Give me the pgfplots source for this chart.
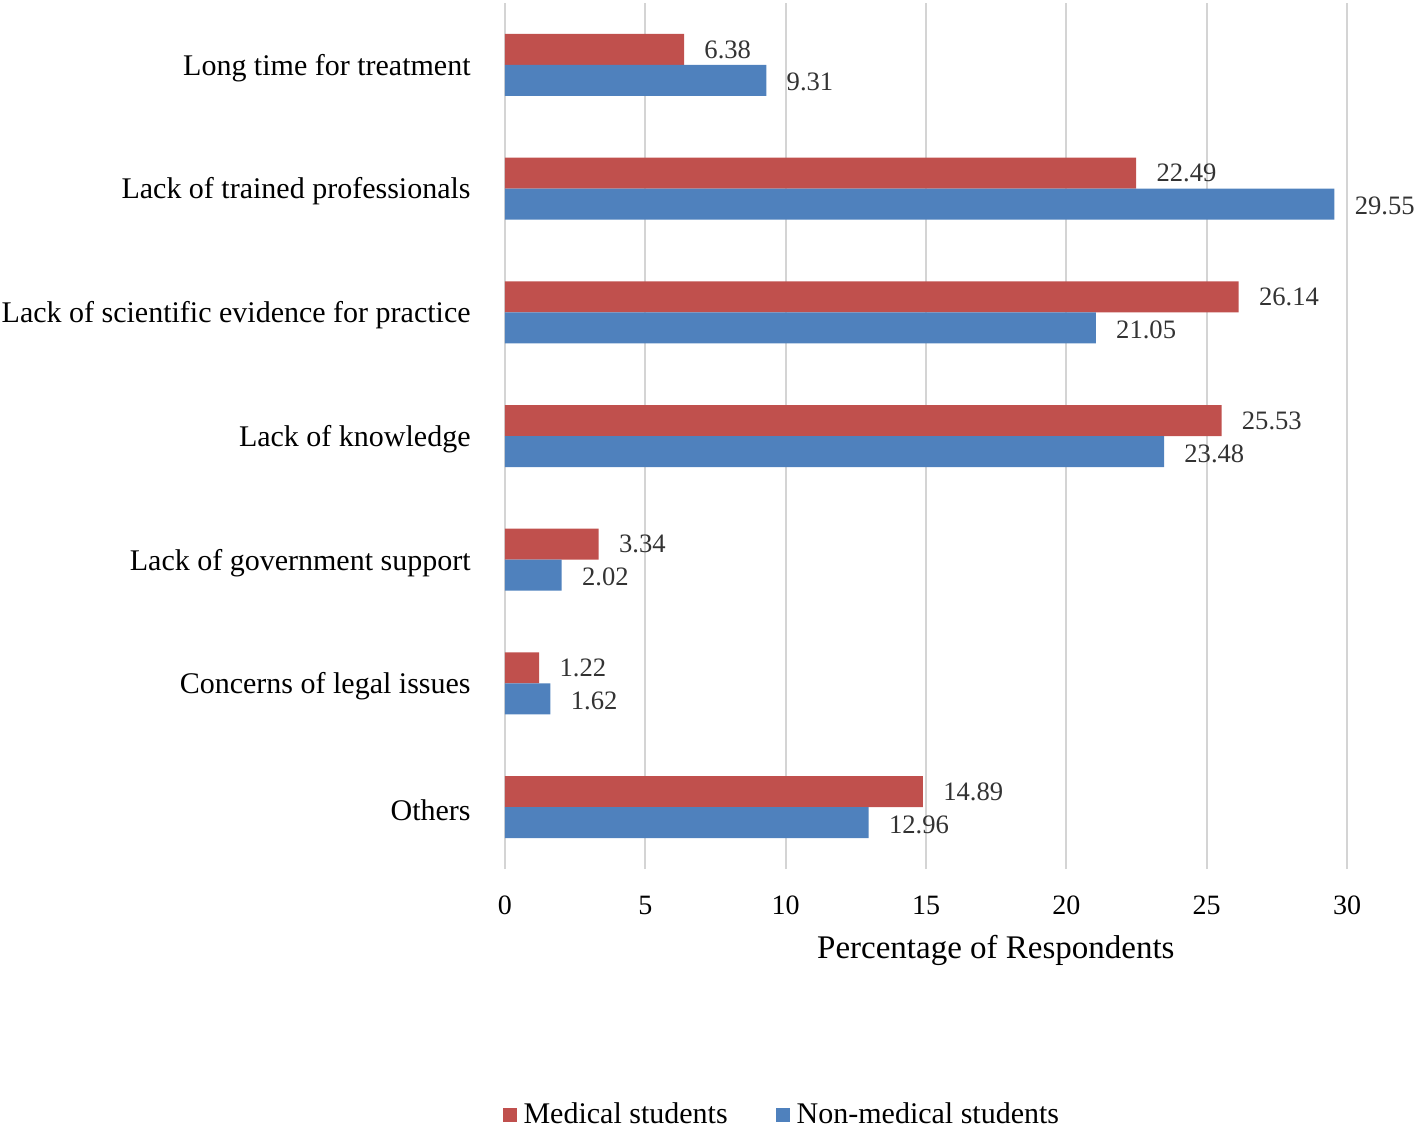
\documentclass[border=0pt]{standalone}
\usepackage{pgfplots}
\pgfplotsset{compat=1.18}
\usepackage{fontspec}
\setmainfont{Liberation Serif}
\definecolor{medred}{HTML}{C0504D}
\definecolor{nonblue}{HTML}{4F81BD}
\definecolor{gridgray}{HTML}{D4D4D4}
\begin{document}
\begin{tikzpicture}
\begin{axis}[
  scale only axis,
  width=421pt, height=433pt,
  xbar, bar width=15.5pt,
  xmin=0, xmax=30,
  ymin=-0.5, ymax=6.5,
  xtick={0,5,...,30},
  ytick={0,...,6},
  yticklabels={Others, Concerns of legal issues, Lack of government support, Lack of knowledge, Lack of scientific evidence for practice, Lack of trained professionals, Long time for treatment},
  major tick length=0pt,
  axis line style={draw=none},
  xmajorgrids, grid style={gridgray, line width=1pt},
  font=\fontsize{15}{18}\selectfont,
  /pgf/number format/assume math mode=true,
  xticklabel style={font=\fontsize{14}{16}\selectfont, anchor=center, yshift=-18pt, inner sep=0pt},
  yticklabel style={anchor=east, inner sep=0pt, xshift=-17pt, yshift=-1.5pt},
  xlabel={Percentage of Respondents},
  xlabel style={at={(axis description cs:0.583,0)}, anchor=center, yshift=-40.5pt, font=\fontsize{16.5}{19}\selectfont},
  nodes near coords,
  nodes near coords style={/pgf/number format/.cd, fixed, fixed zerofill, precision=2, assume math mode=true,
    /tikz/.cd, font=\fontsize{13.3}{15}\selectfont, anchor=west, inner sep=0pt, xshift=10pt, text=black!80},
  legend style={at={(axis description cs:0.33,0)}, anchor=center, yshift=-123pt, draw=none, legend columns=2,
    /tikz/every even column/.append style={column sep=22pt}, font=\fontsize{15}{18}\selectfont},
  legend image code/.code={\fill[#1] (0pt,-3.5pt) rectangle (7pt,3.5pt); \path (0pt,0pt) (8.5pt,0pt);},
]
\addplot[fill=medred, draw=none, bar shift=7.75pt] coordinates {
  (14.89,0) (1.22,1) (3.34,2) (25.53,3) (26.14,4) (22.49,5) (6.38,6)};
\addplot[fill=nonblue, draw=none, bar shift=-7.75pt, every node near coord/.append style={yshift=-1pt}] coordinates {
  (12.96,0) (1.62,1) (2.02,2) (23.48,3) (21.05,4) (29.55,5) (9.31,6)};
\legend{Medical students, Non-medical students}
\end{axis}
\path (current axis.south west) ++(-252.5pt,-130.5pt) coordinate (bbA);
\path (current axis.north east) ++(34.5pt,1.5pt) coordinate (bbB);
\useasboundingbox (bbA) rectangle (bbB);
\end{tikzpicture}
\end{document}
